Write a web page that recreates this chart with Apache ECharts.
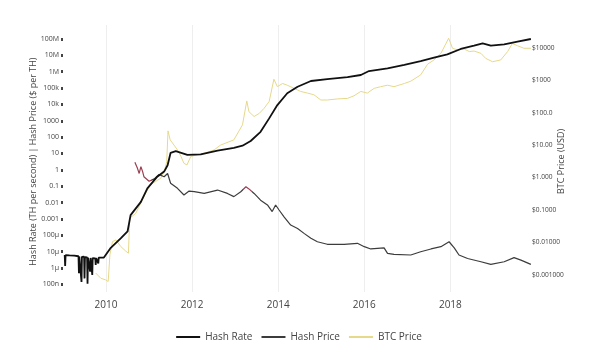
<!DOCTYPE html>
<html>
<head>
<meta charset="utf-8">
<script src="https://cdn.jsdelivr.net/npm/echarts@6/dist/echarts.min.js"></script>
<style>
  html, body { margin: 0; padding: 0; background: #fff; }
  #chart { width: 597px; height: 355px; }
</style>
</head>
<body>
<div id="chart"></div>
<script>
  // hash rate, TH per second
  const hashRateYears = [2009.04, 2009.05, 2009.06, 2009.15, 2009.26, 2009.36, 2009.37, 2009.38, 2009.42, 2009.43, 2009.44,
    2009.49, 2009.50, 2009.51, 2009.56, 2009.57, 2009.58, 2009.62, 2009.63, 2009.64, 2009.67, 2009.68, 2009.69,
    2009.72, 2009.75, 2009.76, 2009.77, 2009.81, 2009.82, 2009.83, 2009.95, 2010.11, 2010.34, 2010.50, 2010.57,
    2010.81, 2010.96, 2011.19, 2011.35, 2011.43, 2011.50, 2011.62, 2011.89, 2012.20, 2012.59, 2012.97, 2013.17,
    2013.36, 2013.59, 2013.79, 2013.98, 2014.21, 2014.45, 2014.76, 2015.14, 2015.61, 2015.92, 2016.11, 2016.54,
    2016.93, 2017.31, 2017.62, 2017.93, 2018.24, 2018.55, 2018.75, 2018.94, 2019.25, 2019.56, 2019.87];
  const hashRate = [6.2e-6, 1.3e-6, 6.0e-6, 5.8e-6, 5.6e-6, 5.2e-6, 4.7e-7, 5.0e-6, 4.9e-6, 1.4e-7, 4.8e-6,
    4.9e-6, 2.3e-7, 4.6e-6, 4.4e-6, 1.1e-7, 4.3e-6, 4.2e-6, 5.9e-7, 4.1e-6, 4.0e-6, 3.7e-7, 4.0e-6,
    3.9e-6, 3.9e-6, 1.5e-6, 4.0e-6, 4.2e-6, 1.9e-6, 4.3e-6, 4.3e-6, 1.7e-5, 6.5e-5, 1.7e-4, 1.7e-3,
    0.011, 0.074, 0.38, 0.78, 1.9, 11, 14, 8.1, 8.9, 15, 22, 30,
    58, 210, 1400, 9100, 48000, 120000, 270000, 350000, 460000, 630000, 1.1e6, 1.6e6,
    2.6e6, 4.5e6, 7.2e6, 1.15e7, 2.45e7, 3.9e7, 5.4e7, 3.9e7, 4.7e7, 6.9e7, 1.0e8];

  // hash price, $ per TH
  const hashPriceYears = [2010.67, 2010.73, 2010.77, 2010.81, 2010.85, 2010.88, 2011.00, 2011.12, 2011.23, 2011.35,
    2011.43, 2011.50, 2011.66, 2011.81, 2011.93, 2012.05, 2012.28, 2012.59, 2012.82, 2012.97, 2013.13, 2013.25,
    2013.32, 2013.44, 2013.59, 2013.75, 2013.86, 2013.94, 2014.02, 2014.14, 2014.29, 2014.45, 2014.60, 2014.76,
    2014.91, 2015.14, 2015.53, 2015.84, 2016.00, 2016.15, 2016.46, 2016.54, 2016.69, 2017.08, 2017.31, 2017.55,
    2017.78, 2017.97, 2018.09, 2018.20, 2018.40, 2018.71, 2018.94, 2019.25, 2019.48, 2019.64, 2019.87];
  const hashPrice = [2.9, 1.23, 0.60, 1.55, 0.78, 0.38, 0.20, 0.28, 0.52, 0.38,
    0.60, 0.15, 0.074, 0.029, 0.050, 0.046, 0.036, 0.058, 0.036, 0.023, 0.046, 0.093,
    0.068, 0.036, 0.014, 0.0071, 0.0028, 0.0071, 0.0035, 0.0013, 4.2e-4, 2.6e-4, 1.3e-4, 6.5e-5,
    4.0e-5, 2.8e-5, 2.8e-5, 3.2e-5, 2.0e-5, 1.45e-5, 1.7e-5, 7.8e-6, 6.8e-6, 6.2e-6, 9.8e-6, 1.45e-5,
    2.0e-5, 4.0e-5, 1.7e-5, 6.2e-6, 3.8e-6, 2.4e-6, 1.66e-6, 2.4e-6, 4.3e-6, 3.0e-6, 1.66e-6];

  // BTC price, USD
  const btcYears = [2009.76, 2009.88, 2009.99, 2010.05, 2010.09, 2010.15, 2010.23, 2010.34, 2010.46, 2010.52, 2010.55,
    2010.69, 2010.84, 2010.92, 2011.04, 2011.15, 2011.27, 2011.35, 2011.41, 2011.44, 2011.49, 2011.58, 2011.66,
    2011.74, 2011.81, 2011.88, 2011.97, 2012.12, 2012.28, 2012.51, 2012.66, 2012.97, 2013.17, 2013.27, 2013.32,
    2013.44, 2013.56, 2013.67, 2013.79, 2013.90, 2013.98, 2014.10, 2014.21, 2014.37, 2014.52, 2014.68, 2014.83,
    2014.99, 2015.14, 2015.38, 2015.61, 2015.76, 2015.92, 2016.07, 2016.23, 2016.38, 2016.54, 2016.69, 2016.93,
    2017.08, 2017.31, 2017.47, 2017.62, 2017.78, 2017.96, 2018.05, 2018.17, 2018.32, 2018.44, 2018.55, 2018.71,
    2018.82, 2018.98, 2019.17, 2019.33, 2019.44, 2019.56, 2019.71, 2019.87];
  const btcPrice = [0.00115, 0.00079, 0.00071, 0.00063, 0.0042, 0.0107, 0.012, 0.0076, 0.0054, 0.0047, 0.056,
    0.079, 0.20, 0.33, 0.62, 0.76, 0.95, 1.5, 3.1, 27.5, 14.5, 10, 7.1,
    4.5, 2.75, 2.45, 4.5, 5.0, 5.6, 7.1, 10, 14.5, 42, 230, 107,
    76, 95, 135, 220, 1070, 630, 790, 700, 560, 450, 400, 355,
    245, 245, 265, 275, 330, 450, 400, 560, 630, 700, 630, 790,
    930, 1450, 3100, 4200, 6700, 19500, 9600, 8500, 9100, 7600, 7900, 6700,
    4700, 3700, 4200, 7600, 13500, 11500, 9600, 9600];

  const yearTicks = [2010, 2012, 2014, 2016, 2018];
  const leftTickLabels = ['100n', '1µ', '10µ', '100µ', '0.001', '0.01', '0.1', '1', '10', '100', '1000', '10k', '100k', '1M', '10M', '100M'];
  const rightTickLabels = ['$0.001000', '$0.01000', '$0.1000', '$1.000', '$10.00', '$100.0', '$1000', '$10000'];

  const pairs = (xs, ys) => xs.map((x, i) => [x, ys[i]]);

  let chart = echarts.init(document.getElementById('chart'));

  const xBase = {type: 'value', min: 2009.0, max: 2019.85, interval: 1};
  const font = 'Open Sans';
  const gray = '#3c3c3c';
  const red = '#9a3f52';

  let option = {
    animation: false,
    textStyle: {fontFamily: font},
    grid: [
      {left: 63, right: 67, top: 25, bottom: 63},
      {left: 63, right: 67, top: 39, bottom: 70.7},
      {left: 63, right: 67, top: 47.7, bottom: 80}
    ],
    xAxis: [
      Object.assign({}, xBase, {
        gridIndex: 0,
        axisLine: {show: false},
        axisTick: {show: false},
        splitLine: {show: false},
        axisLabel: {
          color: '#444', fontSize: 10, margin: 8, fontFamily: font,
          formatter: v => yearTicks.indexOf(Math.round(v)) >= 0 ? String(Math.round(v)) : ''
        }
      }),
      Object.assign({}, xBase, {gridIndex: 1, show: false}),
      Object.assign({}, xBase, {gridIndex: 2, show: false})
    ],
    yAxis: [
      {type: 'value', gridIndex: 0, min: 0, max: 1, show: false},
      {
        type: 'log', gridIndex: 1, min: 1e-7, max: 1e8, interval: 1, position: 'left',
        name: 'Hash Rate (TH per second) | Hash Price ($ per TH)',
        nameLocation: 'middle', nameGap: 25, nameRotate: 90, nameMoveOverlap: false,
        nameTextStyle: {color: '#444', fontSize: 9, fontFamily: font},
        axisLine: {show: false},
        axisTick: {show: true, length: 2, lineStyle: {color: '#444', width: 3}},
        splitLine: {show: false},
        axisLabel: {
          color: '#444', fontSize: 7, margin: 4, fontFamily: font,
          formatter: v => leftTickLabels[Math.round(Math.log10(v)) + 7] || ''
        }
      },
      {
        type: 'log', gridIndex: 2, min: 1e-3, max: 1e4, interval: 1, position: 'right',
        name: 'BTC Price (USD)',
        nameLocation: 'middle', nameGap: 27, nameRotate: 90, nameMoveOverlap: false,
        nameTextStyle: {color: '#444', fontSize: 9, fontFamily: font},
        axisLine: {show: false},
        axisTick: {show: false},
        splitLine: {show: false},
        axisLabel: {
          color: '#444', fontSize: 6.6, margin: 2, fontFamily: font,
          formatter: v => rightTickLabels[Math.round(Math.log10(v)) + 3] || ''
        }
      }
    ],
    legend: {
      data: ['Hash Rate', 'Hash Price', 'BTC Price'],
      left: 'center', top: 327,
      itemWidth: 24, itemHeight: 10, itemGap: 8,
      itemStyle: {opacity: 0},
      textStyle: {color: '#444', fontSize: 10, fontFamily: font}
    },
    visualMap: {
      show: false, type: 'piecewise', seriesIndex: 2, dimension: 0,
      pieces: [
        {lt: 2010.6, color: gray},
        {gte: 2010.6, lt: 2011.05, color: red},
        {gte: 2011.05, lt: 2013.18, color: gray},
        {gte: 2013.18, lt: 2013.38, color: red},
        {gte: 2013.38, color: gray}
      ]
    },
    series: [
      {
        name: 'grid', type: 'line', xAxisIndex: 0, yAxisIndex: 0, data: [], z: 0,
        markLine: {
          silent: true, symbol: 'none', label: {show: false}, z: 0,
          lineStyle: {color: '#eeeeee', width: 1, type: 'solid'},
          data: yearTicks.map(y => ({xAxis: y}))
        }
      },
      {
        name: 'BTC Price', type: 'line', xAxisIndex: 2, yAxisIndex: 2, clip: false, z: 3,
        symbol: 'none', data: pairs(btcYears, btcPrice),
        lineStyle: {color: '#e6d98a', width: 1},
        itemStyle: {color: '#e6d98a'}
      },
      {
        name: 'Hash Price', type: 'line', xAxisIndex: 1, yAxisIndex: 1, clip: false, z: 4,
        symbol: 'none', data: pairs(hashPriceYears, hashPrice),
        lineStyle: {width: 1.2},
        itemStyle: {color: gray}
      },
      {
        name: 'Hash Rate', type: 'line', xAxisIndex: 1, yAxisIndex: 1, clip: false, z: 5,
        symbol: 'none', data: pairs(hashRateYears, hashRate),
        lineStyle: {color: '#111111', width: 1.8},
        itemStyle: {color: '#111111'}
      }
    ]
  };

  chart.setOption(option);
</script>
</body>
</html>
